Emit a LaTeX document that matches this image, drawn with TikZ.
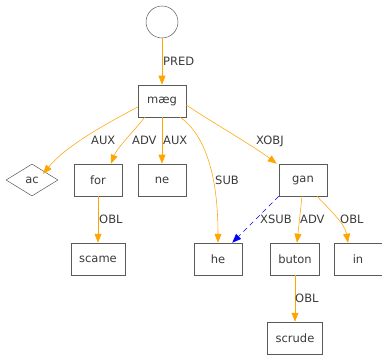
\documentclass[tikz,border=0pt]{standalone}
\usepackage{fontspec}
\setmainfont{DejaVu Sans}
\usetikzlibrary{arrows.meta,shapes.geometric}
\definecolor{edgeorange}{HTML}{FFA500}
\definecolor{boxline}{HTML}{5A5A5A}
\definecolor{txt}{HTML}{3A3A3A}
\tikzset{
  x=1pt, y=-1pt,
  every node/.style={font=\fontsize{11.5}{13}\selectfont, text=txt},
  fbox/.style={draw=boxline, line width=0.5pt, rectangle, minimum width=48pt,
    minimum height=32pt, inner xsep=8pt, inner ysep=0pt},
  fdiamond/.style={draw=boxline, line width=0.5pt, diamond, aspect=1.625,
    minimum width=52pt, minimum height=32pt, inner sep=0pt},
  froot/.style={draw=boxline, line width=0.5pt, circle, minimum size=32pt, inner sep=0pt},
  rel/.style={draw=edgeorange, line width=0.55pt, -{Triangle[length=9pt,width=7pt]}},
  xrel/.style={draw=blue, line width=0.55pt, dash pattern=on 5pt off 4pt,
    -{Triangle[length=9pt,width=7pt]}},
  lbl/.style={anchor=west, inner sep=0pt}
}
\begin{document}
\begin{tikzpicture}
\useasboundingbox (0,0) rectangle (382,355);

% nodes
\node[froot] (root) at (162,22) {};
\node[fbox] (mag) at (162,101) {mæg};
\node[fdiamond] (ac) at (32,180) {ac};
\node[fbox] (for) at (98,180) {for};
\node[fbox] (ne) at (162,180) {ne};
\node[fbox] (gan) at (303,180) {gan};
\node[fbox] (scame) at (98,259) {scame};
\node[fbox] (he) at (218,259) {he};
\node[fbox] (buton) at (295,259) {buton};
\node[fbox] (in) at (358,259) {in};
\node[fbox] (scrude) at (295,338) {scrude};

% relations
\draw[rel] (root.south) -- (mag.north);
\draw[rel] ([yshift=-6pt]mag.west) .. controls (100,127) and (65,147) .. ([xshift=-2pt,yshift=-2pt]ac.north east);
\draw[rel] ([xshift=7pt]mag.south west) .. controls (133,132) and (117,148) .. ([xshift=13pt]for.north);
\draw[rel] (mag.south) -- (ne.north);
\draw[rel] ([xshift=-6pt]mag.south east) .. controls (205,135) and (218,175) .. (he.north);
\draw[rel] ([yshift=-4pt]mag.east) .. controls (218,126) and (252,145) .. ([xshift=-2pt]gan.north west);
\draw[xrel] (gan.south west) -- ([xshift=-10pt]he.north east);
\draw[rel] ([xshift=-1pt]gan.south) -- ([xshift=2pt]buton.north);
\draw[rel] ([xshift=14pt]gan.south) .. controls (330,210) and (345,224) .. ([xshift=-10pt]in.north);
\draw[rel] (for.south) -- (scame.north);
\draw[rel] (buton.south) -- (scrude.north);

% relation labels
\node[lbl] (lpred) at (163,61) {PRED};
\node[lbl] (laux1) at (91,140) {AUX};
\node[lbl] (ladv1) at (132,140) {ADV};
\node[lbl] (laux2) at (163,140) {AUX};
\node[lbl] (lsub) at (215,180) {SUB};
\node[lbl] (lxobj) at (256,141) {XOBJ};
\node[lbl] (lxsub) at (260,219) {XSUB};
\node[lbl] (ladv2) at (300,219) {ADV};
\node[lbl] (lobl1) at (340,219) {OBL};
\node[lbl] (lobl2) at (99,219) {OBL};
\node[lbl] (lobl3) at (295,298) {OBL};
\end{tikzpicture}
\end{document}
